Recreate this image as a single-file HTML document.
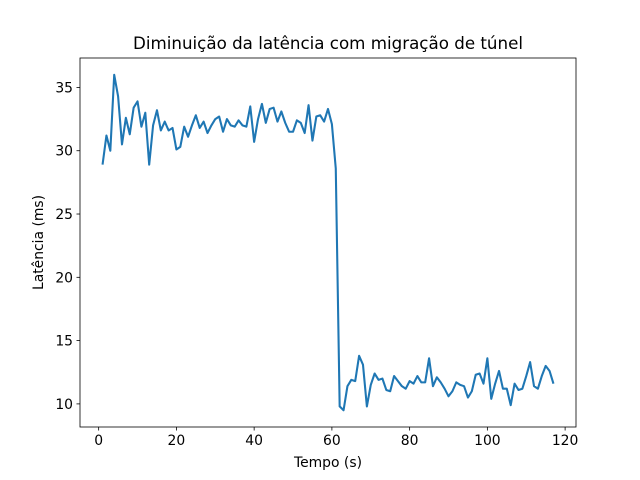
<!DOCTYPE html>
<html><head><meta charset="utf-8"><style>body{margin:0;background:#fff}svg{display:block;font-family:"DejaVu Sans","Liberation Sans",sans-serif}</style></head>
<body>
<svg id="c" width="640" height="480" xmlns="http://www.w3.org/2000/svg"></svg>
<script>
const yValues=[28.9,31.2,30.0,36.0,34.3,30.5,32.6,31.3,33.4,33.9,31.9,33.0,28.9,32.0,33.2,31.6,32.3,31.6,31.8,30.1,30.3,31.9,31.1,32.0,32.8,31.8,32.3,31.4,32.0,32.5,32.7,31.5,32.5,32.0,31.9,32.4,32.0,31.9,33.5,30.7,32.5,33.7,32.2,33.3,33.4,32.3,33.1,32.2,31.5,31.5,32.4,32.2,31.4,33.6,30.8,32.7,32.8,32.3,33.3,32.1,28.6,9.8,9.5,11.4,11.9,11.8,13.8,13.1,9.8,11.5,12.4,11.9,12.0,11.1,11.0,12.2,11.8,11.4,11.2,11.8,11.6,12.2,11.7,11.7,13.6,11.4,12.1,11.7,11.2,10.6,11.0,11.7,11.5,11.4,10.5,11.0,12.3,12.4,11.6,13.6,10.4,11.6,12.6,11.2,11.2,9.9,11.6,11.1,11.2,12.2,13.3,11.4,11.2,12.2,13.0,12.6,11.6];
const xValues=yValues.map((_,i)=>i+1);
const xTicks=[0,20,40,60,80,100,120];
const yTicks=[10,15,20,25,30,35];
const svg=document.getElementById('c');const NS='http://www.w3.org/2000/svg';
const L=80,R=576,T=58,B=427;
const xmin=Math.min(...xValues),xmax=Math.max(...xValues),ymin=Math.min(...yValues),ymax=Math.max(...yValues);
const x0=xmin-(xmax-xmin)*0.05,x1=xmax+(xmax-xmin)*0.05,y0=ymin-(ymax-ymin)*0.05,y1=ymax+(ymax-ymin)*0.05;
const sx=v=>L+(v-x0)/(x1-x0)*(R-L),sy=v=>B-(v-y0)/(y1-y0)*(B-T);
function el(t,a,txt){const e=document.createElementNS(NS,t);for(const k in a)e.setAttribute(k,a[k]);if(txt!=null)e.textContent=txt;svg.appendChild(e);return e;}
let d=xValues.map((x,i)=>(i?'L':'M')+sx(x).toFixed(2)+' '+sy(yValues[i]).toFixed(2)).join(' ');
const line=el('path',{d:d,fill:'none',stroke:'#1f77b4','stroke-width':2.08,'stroke-linejoin':'round'});


const fr=el('rect',{x:L,y:T,width:R-L,height:B-T,fill:'none',stroke:'#000','stroke-width':0.8});


xTicks.forEach(t=>{const x=sx(t);el('line',{x1:x,x2:x,y1:B,y2:B+3.5,stroke:'#000','stroke-width':0.8});
const tx=el('text',{x:x,y:B+18,'font-size':13.9,'text-anchor':'middle'},t);

});
yTicks.forEach(t=>{const y=sy(t);el('line',{x1:L-3.5,x2:L,y1:y,y2:y,stroke:'#000','stroke-width':0.8});
const tx=el('text',{x:L-7,y:y+5,'font-size':13.9,'text-anchor':'end'},t);

});
const ti=el('text',{x:(L+R)/2,y:49,'font-size':16.7,'text-anchor':'middle'},'Diminuição da latência com migração de túnel');


const xl=el('text',{x:(L+R)/2,y:467,'font-size':13.9,'text-anchor':'middle'},'Tempo (s)');


const yl=el('text',{x:0,y:0,'font-size':13.9,'text-anchor':'middle',transform:'translate(43,'+((T+B)/2)+') rotate(-90)'},'Latência (ms)');


</script>
</body></html>
